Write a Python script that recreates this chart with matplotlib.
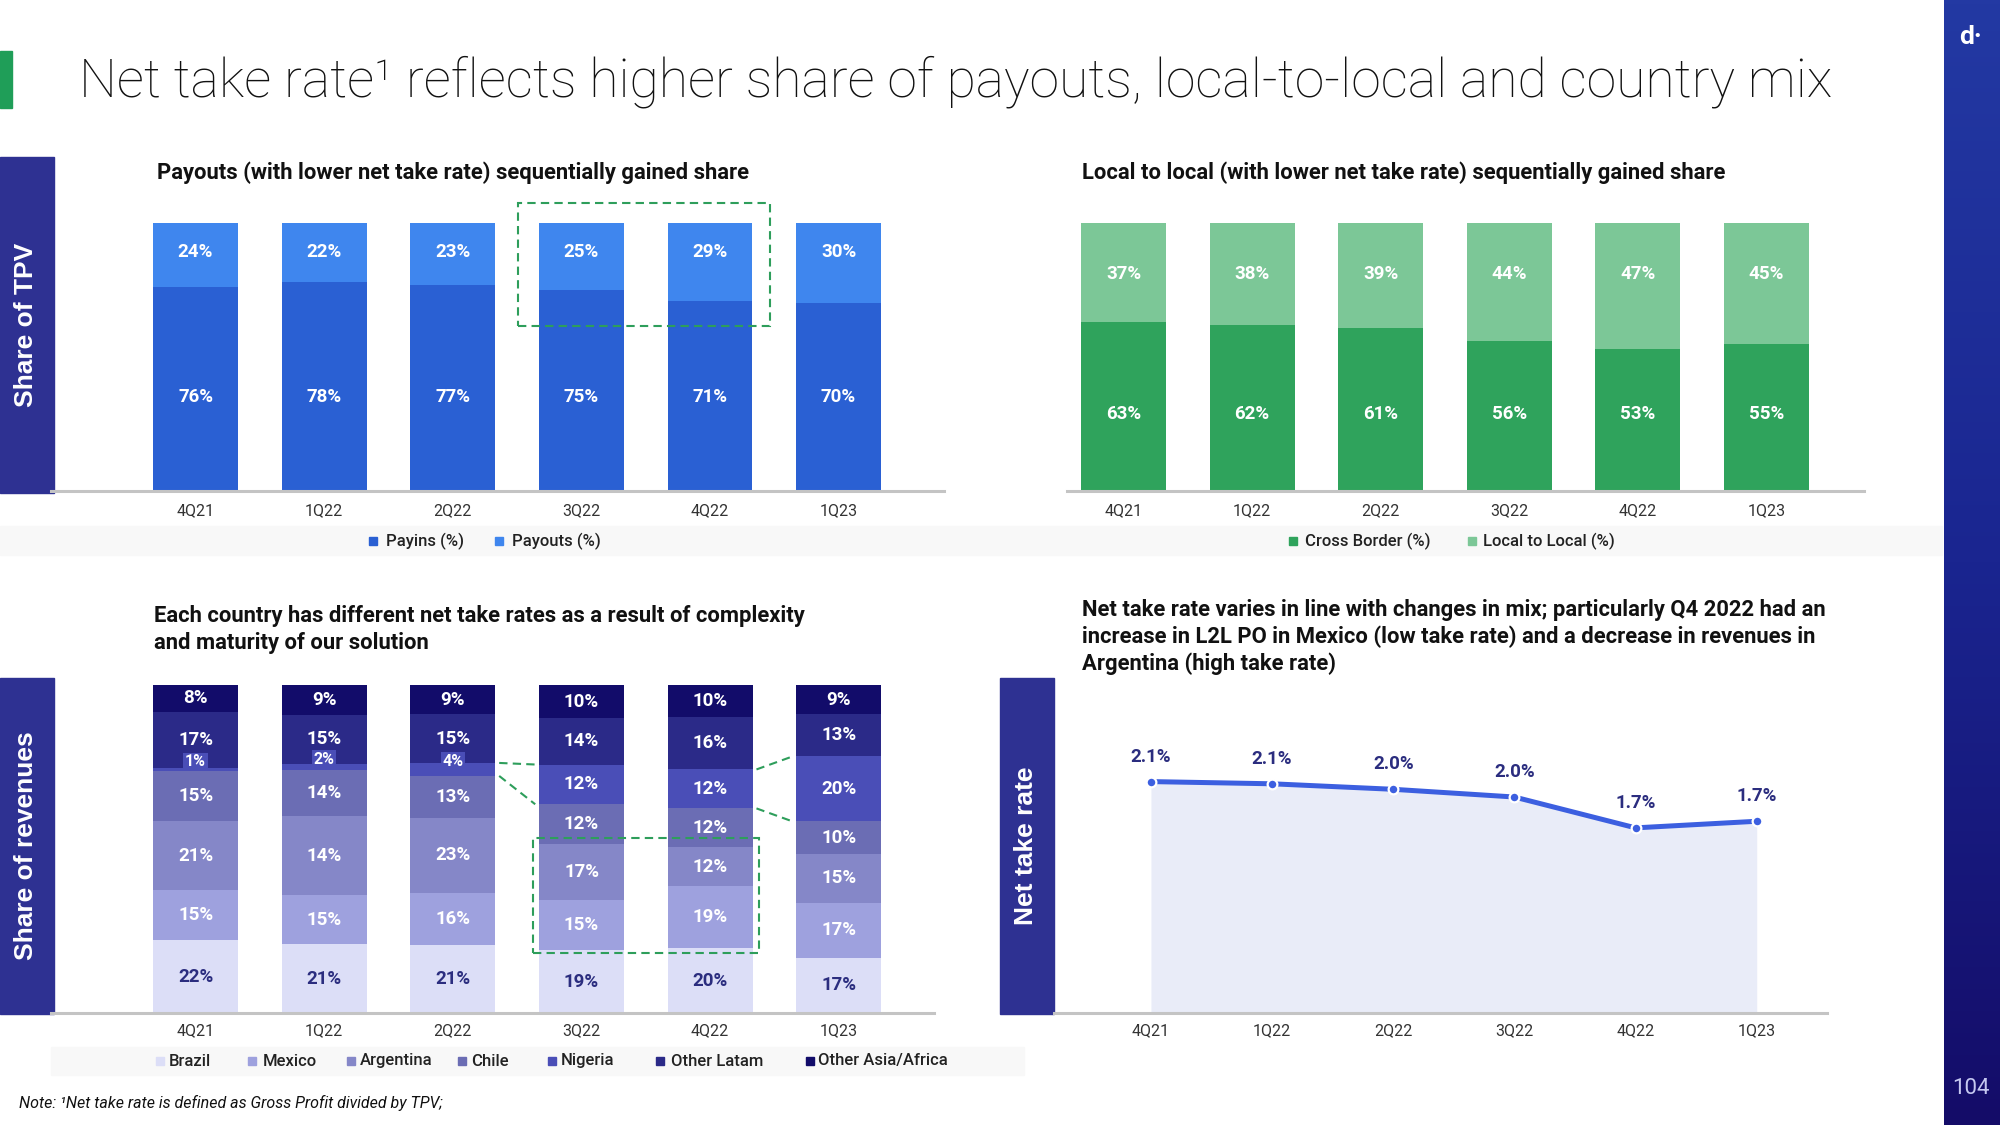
import matplotlib.pyplot as plt
import numpy as np
from matplotlib.patches import Rectangle
from matplotlib.colors import LinearSegmentedColormap

plt.rcParams["font.family"] = ["Roboto", "DejaVu Sans"]

W, H = 2000, 1125

quarters = ["4Q21", "1Q22", "2Q22", "3Q22", "4Q22", "1Q23"]

# share of TPV (%)
payins = [76, 78, 77, 75, 71, 70]
payouts = [24, 22, 23, 25, 29, 30]
cross_border = [63, 62, 61, 56, 53, 55]
local_to_local = [37, 38, 39, 44, 47, 45]

# share of revenues (%), bottom to top
countries = ["Brazil", "Mexico", "Argentina", "Chile", "Nigeria", "Other Latam", "Other Asia/Africa"]
brazil = [22, 21, 21, 19, 20, 17]
mexico = [15, 15, 16, 15, 19, 17]
argentina = [21, 24, 23, 17, 12, 15]
chile = [15, 14, 13, 12, 12, 10]
nigeria = [1, 2, 4, 12, 12, 20]
other_latam = [17, 15, 15, 14, 16, 13]
other_asia_africa = [8, 9, 9, 10, 10, 9]
# slide prints 14% for 1Q22 Argentina although the bar is drawn at ~24%
argentina_labels = ["21%", "14%", "23%", "17%", "12%", "15%"]

# net take rate (%)
net_take_rate = [2.10, 2.08, 2.03, 1.96, 1.68, 1.74]

C_PAYIN, C_PAYOUT = "#2a60d3", "#3f86ee"
C_CB, C_L2L = "#2fa35c", "#7cc797"
C_COUNTRY = ["#dcdef7", "#9ea1de", "#8587c8", "#6b6db4", "#4a4eb7", "#2b2a88", "#120c6a"]
C_BOX = "#2e3192"
C_GREEN = "#2e9e5b"
C_AXIS = "#c4c4c4"
C_NAVY_TXT = "#2b2d7f"

fig = plt.figure(figsize=(20, 11.25), dpi=100)


def px_axes(x0, y0, x1, y1, z=2):
    ax = fig.add_axes([x0 / W, 1 - y1 / H, (x1 - x0) / W, (y1 - y0) / H], zorder=z)
    ax.patch.set_alpha(0)
    return ax


# ---------- background / slide furniture ----------
bg = px_axes(0, 0, W, H, z=0)
side = LinearSegmentedColormap.from_list("side", ["#2339a3", "#1a2590", "#140c68"])
bg.imshow(np.linspace(0, 1, 256).reshape(-1, 1), cmap=side, aspect="auto",
          extent=(1944, 2000, 1125, 0), zorder=3)
bg.set_xlim(0, W)
bg.set_ylim(H, 0)
bg.axis("off")

bg.add_patch(Rectangle((0, 51), 12, 57, color="#1f9e58"))
bg.text(79, 82, "Net take rate¹ reflects higher share of payouts, local-to-local and country mix",
        fontsize=38.5, fontweight="light", color="#111111", va="center", ha="left")
bg.text(1971, 37, "d·", fontsize=19, fontweight="bold", color="white", ha="center", va="center", zorder=4)
bg.text(1971, 1089, "104", fontsize=16, color="#c5c8f0", ha="center", va="center", zorder=4)

# side label boxes
for (x0, y0, x1, y1), lab in [((0, 157, 54, 493), "Share of TPV"),
                              ((0, 678, 54, 1014), "Share of revenues"),
                              ((1000, 678, 1054, 1014), "Net take rate")]:
    bg.add_patch(Rectangle((x0, y0), x1 - x0, y1 - y0, color=C_BOX))
    bg.text((x0 + x1) / 2 - 1, (y0 + y1) / 2, lab, rotation=90, ha="center", va="center",
            color="white", fontsize=19, fontweight="bold", family="Liberation Sans")

# legend bands
bg.add_patch(Rectangle((0, 526), 1942, 29, color="#f8f8f8", zorder=1))
bg.add_patch(Rectangle((51, 1047), 973, 28, color="#f8f8f8", zorder=1))


def legend_item(xm, xt, y, color, label):
    bg.add_patch(Rectangle((xm - 4, y - 4), 8, 8, color=color))
    bg.text(xt, y, label, fontsize=12, fontweight="medium", color="#222222", va="center", ha="left")


legend_item(373, 386, 541, C_PAYIN, "Payins (%)")
legend_item(499, 512, 541, C_PAYOUT, "Payouts (%)")
legend_item(1293, 1305, 541, C_CB, "Cross Border (%)")
legend_item(1472, 1483, 541, C_L2L, "Local to Local (%)")
for xm, xt, col, lab in zip([160, 252, 351, 462, 552, 660, 810],
                            [169, 263, 360, 471, 561, 671, 818], C_COUNTRY, countries):
    legend_item(xm, xt, 1061, col, lab)

# panel titles
tkw = dict(fontsize=15.8, fontweight="bold", color="#111111", va="center", ha="left")
bg.text(157, 173, "Payouts (with lower net take rate) sequentially gained share", **tkw)
bg.text(1082, 173, "Local to local (with lower net take rate) sequentially gained share", **tkw)
bg.text(154, 616, "Each country has different net take rates as a result of complexity", **tkw)
bg.text(154, 643, "and maturity of our solution", **tkw)
bg.text(1082, 610, "Net take rate varies in line with changes in mix; particularly Q4 2022 had an", **tkw)
bg.text(1082, 637, "increase in L2L PO in Mexico (low take rate) and a decrease in revenues in", **tkw)
bg.text(1082, 664, "Argentina (high take rate)", **tkw)

bg.text(19, 1103, "Note: ¹Net take rate is defined as Gross Profit divided by TPV;",
        fontsize=11.5, fontstyle="italic", color="#111111", va="center", ha="left")

x = np.arange(len(quarters))
BW = 0.66
lkw = dict(ha="center", va="center", fontsize=13.5, fontweight="bold", color="white")


def style_axes(ax, pad):
    ax.set_xticks(x, quarters)
    ax.set_yticks([])
    ax.tick_params(axis="x", length=0, pad=pad, labelsize=11.5, labelcolor="#333333")
    for s in ["top", "left", "right"]:
        ax.spines[s].set_visible(False)
    ax.spines["bottom"].set_color(C_AXIS)
    ax.spines["bottom"].set_linewidth(2.2)


# ---------- payins / payouts ----------
ax1 = px_axes(51, 223, 944, 491)
ax1.bar(x, payins, BW, color=C_PAYIN)
ax1.bar(x, payouts, BW, bottom=payins, color=C_PAYOUT)
for i in x:
    ax1.text(i, 89, f"{payouts[i]}%", **lkw)
    ax1.text(i, 35, f"{payins[i]}%", **lkw)
ax1.set_xlim(-1.124, 5.82)
ax1.set_ylim(0, 100)
style_axes(ax1, 9)
ax1.add_patch(Rectangle((2.51, 61.6), 1.96, 45.9, fill=False, ec=C_GREEN, lw=1.5,
                        ls=(0, (4, 2.5)), clip_on=False, zorder=5))

# ---------- cross border / local to local ----------
ax2 = px_axes(1067, 223, 1864, 491)
ax2.bar(x, cross_border, BW, color=C_CB)
ax2.bar(x, local_to_local, BW, bottom=cross_border, color=C_L2L)
for i in x:
    ax2.text(i, 81, f"{local_to_local[i]}%", **lkw)
    ax2.text(i, 28.6, f"{cross_border[i]}%", **lkw)
ax2.set_xlim(-0.44, 5.76)
ax2.set_ylim(0, 100)
style_axes(ax2, 9)

# ---------- share of revenues by country ----------
ax3 = px_axes(51, 685, 934, 1013)
stack = np.array([brazil, mexico, argentina, chile, nigeria, other_latam, other_asia_africa], float)
shares = stack / stack.sum(axis=0) * 100
bottoms = np.vstack([np.zeros(len(x)), np.cumsum(shares, axis=0)[:-1]])
for k in range(len(countries)):
    ax3.bar(x, shares[k], BW, bottom=bottoms[k], color=C_COUNTRY[k])
    for i in x:
        lab = argentina_labels[i] if k == 2 else f"{int(stack[k, i])}%"
        yc = bottoms[k, i] + shares[k, i] / 2
        kw = dict(lkw)
        if k == 0:
            kw["color"] = C_NAVY_TXT
        if k == 4 and stack[k, i] < 5:
            kw["fontsize"] = 11.5
            ax3.text(i, yc + 2.4, lab, bbox=dict(boxstyle="square,pad=0.1", fc=C_COUNTRY[4], ec="none"), **kw)
        else:
            ax3.text(i, yc, lab, **kw)
ax3.set_xlim(-1.124, 5.74)
ax3.set_ylim(0, 100)
style_axes(ax3, 7)

dash = dict(color=C_GREEN, lw=1.5, ls=(0, (4, 2.5)), clip_on=False, zorder=5)
for a, b in [(2, 3), (4, 5)]:
    for yy in (bottoms[4], bottoms[4] + shares[4]):
        ax3.plot([a + BW / 2 + 0.03, b - BW / 2 - 0.03], [yy[a], yy[b]], **dash)
ax3.add_patch(Rectangle((2.62, 18.4), 1.76, 35.0, fill=False, ec=C_GREEN, lw=1.5,
                        ls=(0, (4, 2.5)), clip_on=False, zorder=5))

# ---------- net take rate ----------
ax4 = px_axes(1054, 678, 1827, 1013)
ax4.fill_between(x, net_take_rate, 0, color="#e9ecf8", lw=0)
ax4.plot(x, net_take_rate, color="#3c5fe0", lw=3.6, marker="o", ms=7,
         mfc="#3c5fe0", mec="white", mew=1.6, zorder=3)
for i in x:
    ax4.annotate(f"{net_take_rate[i]:.1f}%", (i, net_take_rate[i]), xytext=(0, 18),
                 textcoords="offset points", ha="center", va="center", fontsize=13.5,
                 fontweight="bold", color=C_NAVY_TXT)
ax4.set_xlim(-0.80, 5.58)
ax4.set_ylim(0, 3.04)
style_axes(ax4, 7)

fig.savefig("out.png", dpi=100)
